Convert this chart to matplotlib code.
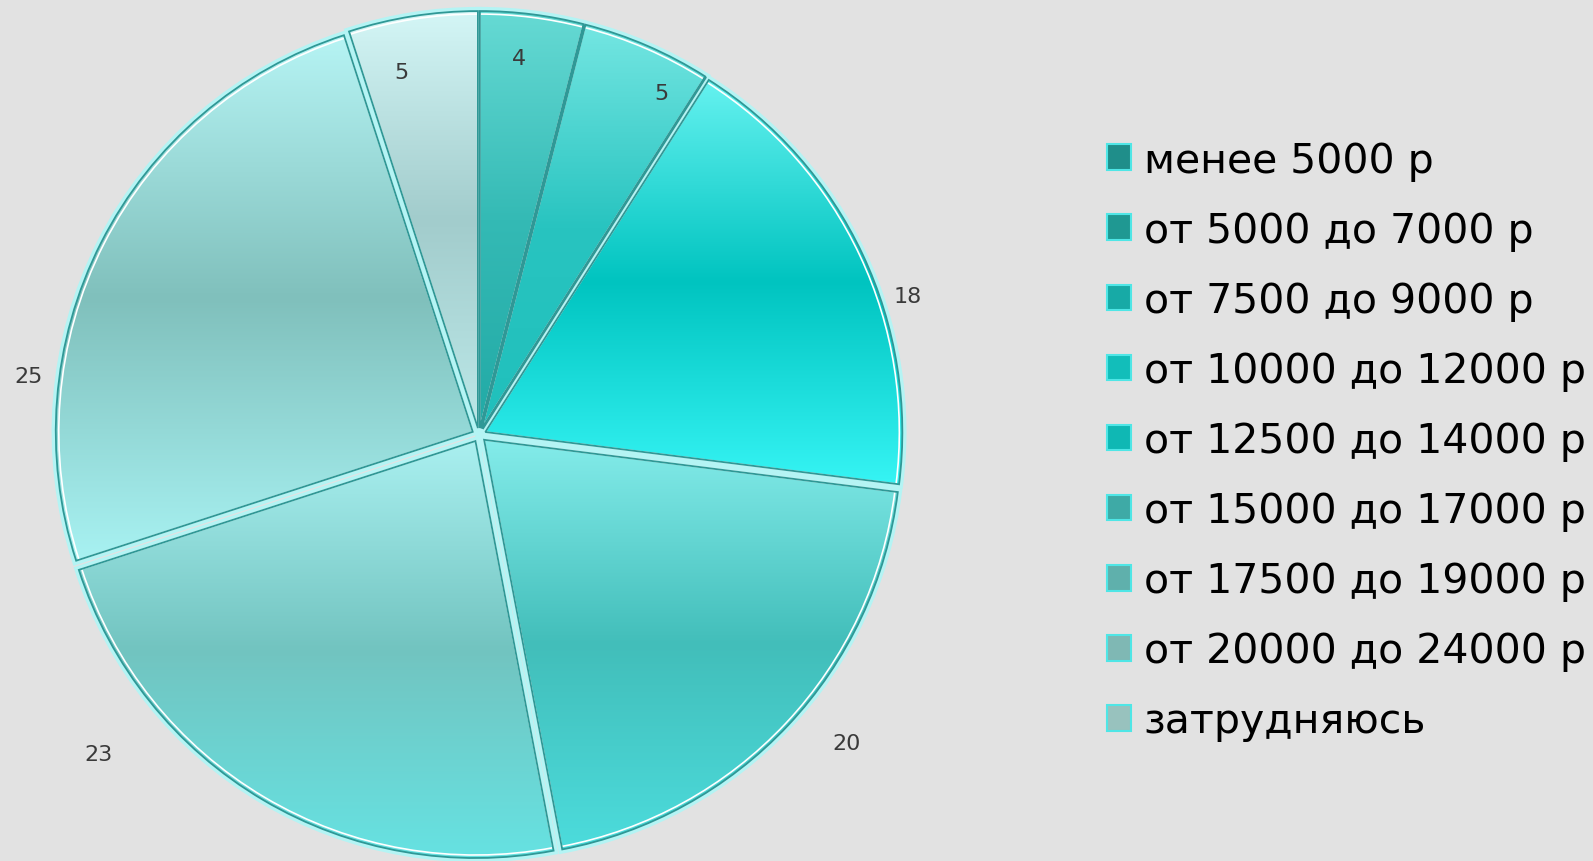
import numpy as np
import matplotlib
matplotlib.use("Agg")
import matplotlib.pyplot as plt
from matplotlib.patches import Patch
from matplotlib.colors import to_rgba

# ---------------- data ----------------
categories = [
    "менее 5000 р",
    "от 5000 до 7000 р",
    "от 7500 до 9000 р",
    "от 10000 до 12000 р",
    "от 12500 до 14000 р",
    "от 15000 до 17000 р",
    "от 17500 до 19000 р",
    "от 20000 до 24000 р",
    "затрудняюсь",
]
values = [4, 0, 5, 0, 18, 20, 23, 25, 5]

# ---------------- style ----------------
W, H = 1593, 862
bg = "#e2e2e2"
# gradient (top, middle, bottom) per slice
grad = [
    ("#66dad4", "#34bab5", "#22aaa6"),
    ("#40c8c4", "#20a8a4", "#20a8a4"),
    ("#74e6e2", "#28c4c0", "#20c0bc"),
    ("#50e8e8", "#10c8c4", "#10c8c4"),
    ("#66f2f0", "#00c4c0", "#36f4f4"),
    ("#84ecea", "#42beba", "#4cdcdc"),
    ("#aaf0f0", "#72c4c0", "#66e2e2"),
    ("#b6f4f4", "#80c0bc", "#a8f2f2"),
    ("#d4f6f6", "#a2cccc", "#bce8e8"),
]
legend_colors = ["#1f8e8a", "#1f9892", "#17aaa6", "#12beba", "#0fb8b4",
                 "#3eaaa6", "#5fb0ac", "#7fb8b4", "#98c2be"]
explode = [7] * len(values)          # offset in data units (pixels)
center = (479, 426)
radius = 417
# label placement (angle in degrees, distance as fraction of radius)
label_pos = [(84, 0.91), None, (62, 0.93), None, (18, 1.08),
             (-40, 1.15), (-140, 1.19), (172.5, 1.09), (102, 0.89)]

fig = plt.figure(figsize=(W / 100, H / 100), dpi=100, facecolor=bg)
ax = fig.add_axes([0, 0, 1, 1])
ax.set_facecolor(bg)

common = dict(explode=explode, startangle=90, counterclock=False,
              center=center, frame=True)

# glow underneath
ax.pie(values, radius=radius,
       wedgeprops=dict(facecolor="none", edgecolor="#b4f4f4", linewidth=6, zorder=1),
       **common)

wedges, _ = ax.pie(values, radius=radius,
                   wedgeprops=dict(facecolor="none", edgecolor="none", zorder=2),
                   **common)

for w, v, g in zip(wedges, values, grad):
    if v <= 0:
        continue
    ext = w.get_path().get_extents()
    n = 256
    t = np.linspace(0, 1, n)
    top, mid, bot = (np.array(to_rgba(c)) for c in g)
    rows = np.empty((n, 1, 4))
    for i, tt in enumerate(t):
        if tt < 0.5:
            rows[i, 0] = top + (mid - top) * (tt / 0.5)
        else:
            rows[i, 0] = mid + (bot - mid) * ((tt - 0.5) / 0.5)
    im = ax.imshow(rows, extent=[ext.x0, ext.x1, ext.y0, ext.y1], origin="upper",
                   aspect="auto", interpolation="bilinear", zorder=2)
    im.set_clip_path(w)

# white inner line and dark outline
ax.pie(values, radius=radius - 3,
       wedgeprops=dict(facecolor="none", edgecolor="white", linewidth=1.2, zorder=3),
       **common)
ax.pie(values, radius=radius,
       wedgeprops=dict(facecolor="none", edgecolor="#2f9896", linewidth=1.3, zorder=4),
       **common)

for v, lp in zip(values, label_pos):
    if lp is None:
        continue
    a, d = lp
    x = center[0] + radius * d * np.cos(np.radians(a))
    y = center[1] + radius * d * np.sin(np.radians(a))
    ax.text(x, y, f"{v}", ha="center", va="center", fontsize=16,
            color="#3a3a3a", zorder=5)

handles = [Patch(facecolor=c, edgecolor="#4fe6e6", linewidth=1.5) for c in legend_colors]
leg = ax.legend(handles, categories, loc="center left",
                bbox_to_anchor=(1087 / W, 1 - 442 / H), frameon=False,
                fontsize=29.5, handlelength=0.58, handleheight=0.58,
                handletextpad=0.3, labelspacing=0.735, borderpad=0)

ax.set_xlim(0, W)
ax.set_ylim(0, H)
ax.set_aspect("equal")
ax.axis("off")

fig.savefig("out.png", dpi=100, facecolor=bg)
